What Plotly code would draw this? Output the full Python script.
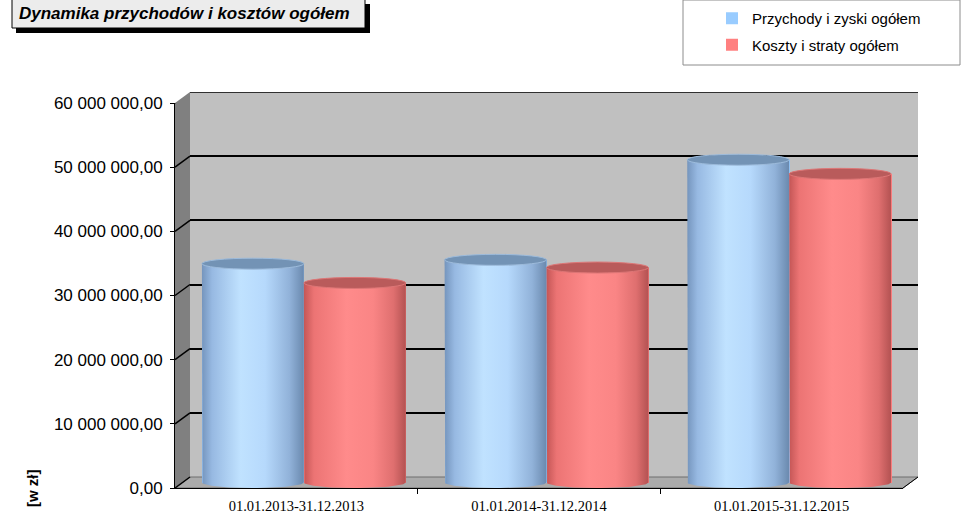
import numpy as np
import plotly.graph_objects as go

# ---------------- data ----------------
categories = ["01.01.2013-31.12.2013", "01.01.2014-31.12.2014", "01.01.2015-31.12.2015"]
series_names = ["Przychody i zyski ogółem", "Koszty i straty ogółem"]
przychody = [34.1e6, 34.7e6, 50.3e6]
koszty = [31.1e6, 33.5e6, 48.1e6]
tick_values = [0, 10e6, 20e6, 30e6, 40e6, 50e6, 60e6]
tick_labels = ["0,00", "10 000 000,00", "20 000 000,00", "30 000 000,00",
               "40 000 000,00", "50 000 000,00", "60 000 000,00"]
title_text = "Dynamika przychodów i kosztów ogółem"
unit_text = "[w zł]"

# ---------------- geometry / style ----------------
W, H = 961, 516
L, R, T, B = 175, 43, 92, 28
PW, PH = W - L - R, H - T - B          # 743 x 396
DX, DY = 15, 11                        # 3D depth offset in px
FW, FH = PW - DX, PH - DY              # front plane 728 x 385
YMAX = 60e6
RY = 5.5                               # ellipse half height px
BAR_W = 0.42
OFFS = [-0.42, 0.0]

FONT = "Liberation Sans, Arial, sans-serif"
SERIF = "Liberation Serif, Times New Roman, serif"

fill_colors = ["#99CCFF", "#FF8080"]
top_fill = ["#7393b5", "#b95b5b"]
top_line = ["#9dbbdb", "#dd7676"]
grads = [
    [[0, "#7595bd"], [0.1, "#97b9e2"], [0.38, "#c0e2ff"], [0.62, "#b6d9fc"],
     [0.86, "#91b2d9"], [1, "#6a89ae"]],
    [[0, "#c45656"], [0.1, "#ec7474"], [0.42, "#ff8b8b"], [0.68, "#fa8585"],
     [0.88, "#df6f6f"], [1, "#b35252"]],
]


def pp(x, y):
    """pixel -> paper"""
    return (x - L) / PW, (H - B - y) / PH


fig = go.Figure()

# dummy trace so the back-wall subplot exists
fig.add_trace(go.Scatter(x=[None], y=[None], xaxis="x", yaxis="y",
                         showlegend=False, hoverinfo="skip"))

values = [przychody, koszty]
ry_data = RY * YMAX / FH
for s in range(2):
    fig.add_trace(go.Bar(
        x=list(range(len(categories))), y=values[s], name=series_names[s],
        width=BAR_W, offset=OFFS[s], marker=dict(color=fill_colors[s], line=dict(width=0)),
        xaxis="x2", yaxis="y2", legendgroup=f"g{s}",
        hovertext=categories, hoverinfo="text+y+name",
    ))

t = np.linspace(np.pi, 0, 41)
for s in range(2):
    for i, v in enumerate(values[s]):
        xl = i + OFFS[s]
        xr = xl + BAR_W
        xc = (xl + xr) / 2
        a = BAR_W / 2
        xs = [xl, xl] + list(xc + a * np.cos(t)) + [xr, xl]
        ys = [v, 0] + list(-ry_data * np.sin(t)) + [v, v]
        fig.add_trace(go.Scatter(
            x=xs, y=ys, xaxis="x2", yaxis="y2", mode="lines", line=dict(width=0),
            fill="toself", fillcolor=fill_colors[s],
            fillgradient=dict(type="horizontal", colorscale=grads[s]),
            showlegend=False, hoverinfo="skip",
        ))
        fig.add_shape(type="circle", xref="x2", yref="y2", x0=xl, x1=xr,
                      ysizemode="pixel", yanchor=v, y0=-RY, y1=RY,
                      fillcolor=top_fill[s], line=dict(color=top_line[s], width=1),
                      layer="above")

fig.add_trace(go.Scatter(x=[None], y=[None], xaxis="x3", yaxis="y3",
                         showlegend=False, hoverinfo="skip"))

# ---------------- walls ----------------
fig.add_shape(type="rect", xref="paper", yref="paper",
              x0=pp(L + DX, 0)[0], x1=1, y0=pp(0, H - B - DY)[1], y1=1,
              fillcolor="#c0c0c0", line=dict(width=0), layer="below")


def path(points):
    pts = [pp(x, y) for x, y in points]
    return "M " + " L ".join(f"{x},{y}" for x, y in pts) + " Z"


fy = H - B                 # front floor y (488)
fx1 = L + FW               # front right x (903)
# side wall
fig.add_shape(type="path", xref="paper", yref="paper",
              path=path([(L, T + DY), (L + DX, T), (L + DX, fy - DY), (L, fy)]),
              fillcolor="#808080", line=dict(width=0), layer="below")
# floor
fig.add_shape(type="path", xref="paper", yref="paper",
              path=path([(L, fy), (L + DX, fy - DY), (L + PW, fy - DY), (fx1, fy)]),
              fillcolor="#ababab", line=dict(color="#6e6e6e", width=1), layer="below")
# right floor edge
fig.add_shape(type="line", xref="paper", yref="paper",
              x0=pp(fx1, fy)[0], y0=pp(fx1, fy)[1], x1=1, y1=pp(0, fy - DY)[1],
              line=dict(color="#000000", width=1), layer="above")
# back wall top edge (60 000 000 grid line)
fig.add_shape(type="line", xref="paper", yref="y", x0=DX / PW, x1=1,
              y0=tick_values[-1], y1=tick_values[-1],
              line=dict(color="#000000", width=1.5), layer="below")
# side-wall grid connectors
for v in tick_values:
    fig.add_shape(type="line", xref="paper", yref="y3", ysizemode="pixel", yanchor=v,
                  x0=0, x1=DX / PW, y0=0, y1=DY,
                  line=dict(color="#000000", width=1.5), layer="below")

# ---------------- title box ----------------
fig.add_shape(type="rect", xref="paper", yref="paper",
              x0=pp(16, 0)[0], x1=pp(370, 0)[0], y0=pp(0, 33)[1], y1=pp(0, 4)[1],
              fillcolor="#000000", line=dict(width=0), layer="above")
fig.add_shape(type="rect", xref="paper", yref="paper",
              x0=pp(12, 0)[0], x1=pp(365, 0)[0], y0=pp(0, 28)[1], y1=pp(0, -3)[1],
              fillcolor="#ececec", line=dict(color="#000000", width=1), layer="above")
fig.add_annotation(text=f"<b><i>{title_text}</i></b>", xref="paper", yref="paper",
                   x=pp(17, 0)[0], y=pp(0, 14)[1], xanchor="left", yanchor="middle",
                   showarrow=False, font=dict(family=FONT, size=17, color="#000000"))

# legend box
fig.add_shape(type="rect", xref="paper", yref="paper",
              x0=pp(683, 0)[0], x1=pp(960, 0)[0], y0=pp(0, 65)[1], y1=pp(0, 0)[1],
              fillcolor="#ffffff", line=dict(color="#8c8c8c", width=1), layer="below")

# unit annotation
fig.add_annotation(text=f"<b>{unit_text}</b>", xref="paper", yref="paper",
                   x=pp(32, 0)[0], y=pp(0, 488)[1], textangle=-90,
                   xanchor="center", yanchor="middle", showarrow=False,
                   font=dict(family=FONT, size=15, color="#000000"))

xr_ = [-0.5, len(categories) - 0.5]
fig.update_layout(
    width=W, height=H, margin=dict(l=L, r=R, t=T, b=B, pad=0, autoexpand=False),
    paper_bgcolor="#ffffff", plot_bgcolor="rgba(0,0,0,0)",
    barmode="overlay", bargap=0,
    showlegend=True,
    legend=dict(x=pp(712, 0)[0], y=pp(0, 2)[1], xanchor="left", yanchor="top",
                bgcolor="rgba(0,0,0,0)", borderwidth=0, traceorder="grouped",
                tracegroupgap=4, itemwidth=30,
                font=dict(family=FONT, size=15, color="#000000")),
    # back wall axes
    xaxis=dict(domain=[DX / PW, 1], range=xr_, visible=False, anchor="y", fixedrange=True),
    yaxis=dict(domain=[DY / PH, 1], range=[0, YMAX], anchor="x",
               tickmode="array", tickvals=tick_values[1:], showticklabels=False,
               showgrid=True, gridcolor="#000000", gridwidth=1.5, zeroline=False,
               showline=False, ticks="", fixedrange=True),
    # mid-depth axes (bars)
    xaxis2=dict(domain=[DX / 2 / PW, (FW + DX / 2) / PW], range=xr_, visible=False,
                anchor="y2", fixedrange=True),
    yaxis2=dict(domain=[0, (FH + DY / 2) / PH], range=[-RY * YMAX / FH, YMAX],
                visible=False, anchor="x2", fixedrange=True),
    # front axes (labels)
    xaxis3=dict(domain=[0, FW / PW], range=xr_, anchor="y3",
                tickmode="array", tickvals=list(range(len(categories))), ticktext=categories,
                ticks="", showline=True, linecolor="#000000", linewidth=1,
                showgrid=False, zeroline=False, ticklabelstandoff=5,
                minor=dict(tickmode="array", tickvals=[0.5, 1.5], ticks="outside",
                           ticklen=5, tickcolor="#000000", showgrid=False),
                tickfont=dict(family=SERIF, size=14.5, color="#000000"), fixedrange=True),
    yaxis3=dict(domain=[0, FH / PH], range=[0, YMAX], anchor="x3",
                tickmode="array", tickvals=tick_values, ticktext=tick_labels,
                ticks="outside", ticklen=4, tickcolor="#000000",
                showline=True, linecolor="#000000", linewidth=1,
                showgrid=False, zeroline=False, ticklabelstandoff=4,
                tickfont=dict(family=FONT, size=17, color="#000000"), fixedrange=True),
)

fig.write_html("out.html")
